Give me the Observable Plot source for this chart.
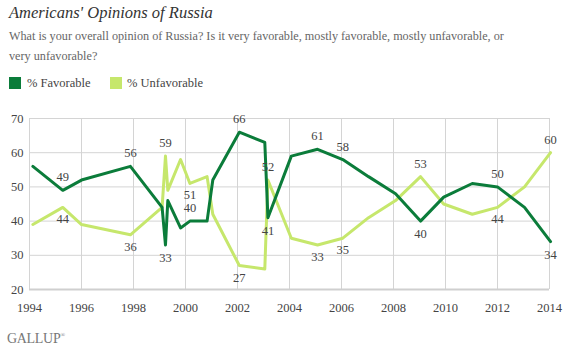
<!DOCTYPE html>
<html>
<head>
<meta charset="utf-8">
<script src="https://cdn.jsdelivr.net/npm/d3@7"></script>
<script src="https://cdn.jsdelivr.net/npm/@observablehq/plot@0.6"></script>
<style>
  body { margin: 0; background: #fff; }
  #wrap { position: relative; width: 569px; height: 350px; font-family: "Liberation Serif", serif; overflow: hidden; }
  .title { position: absolute; left: 9px; top: 3px; font-style: italic; font-size: 16.5px; color: #333; white-space: nowrap; }
  .sub { position: absolute; left: 9px; top: 26px; width: 512px; font-size: 12.2px; line-height: 20px; color: #666; }
  .legend { position: absolute; left: 9px; top: 76px; height: 13px; font-size: 12.5px; color: #444; }
  .legend .sw { position: absolute; top: 1px; width: 12px; height: 12px; }
  .legend .lab { position: absolute; top: 0px; white-space: nowrap; }
  #chart { position: absolute; left: 0; top: 98px; }
  .logo { position: absolute; left: 7px; top: 331px; font-size: 14px; color: #777; letter-spacing: -0.3px; }
  .logo sup { font-size: 6px; }
</style>
</head>
<body>
<div id="wrap">
  <div class="title">Americans' Opinions of Russia</div>
  <div class="sub">What is your overall opinion of Russia? Is it very favorable, mostly favorable, mostly unfavorable, or very unfavorable?</div>
  <div class="legend">
    <span class="sw" style="left:0;background:#0b7c3a"></span><span class="lab" style="left:18px">% Favorable</span>
    <span class="sw" style="left:101px;background:#c6e76c"></span><span class="lab" style="left:118px">% Unfavorable</span>
  </div>
  <div id="chart"></div>
  <div class="logo">GALLUP<sup>®</sup></div>
</div>
<script>
const years = [1994.13, 1995.28, 1996.0, 1997.88, 1999.1, 1999.23, 1999.32, 1999.81, 2000.17, 2000.83, 2001.05, 2002.07, 2003.05, 2003.17, 2004.07, 2005.08, 2006.05, 2007.04, 2008.08, 2009.04, 2009.93, 2011.03, 2012.0, 2013.04, 2014.04];
const favorable = [56, 49, 52, 56, 44, 33, 46, 38, 40, 40, 52, 66, 63, 41, 59, 61, 58, 53, 48, 40, 47, 51, 50, 44, 34];
const unfavorable = [39, 44, 39, 36, 44, 59, 49, 58, 51, 53, 42, 27, 26, 52, 35, 33, 35, 41, 46, 53, 45, 42, 44, 50, 60];
const favAbove = [1, 3, 8, 11, 15, 16, 22];
const favBelow = [5, 13, 19, 24];
const unfAbove = [5, 13, 19, 24];
const unfBelow = [1, 3, 8, 11, 15, 16, 22];
const xTicks = [1994, 1996, 1998, 2000, 2002, 2004, 2006, 2008, 2010, 2012, 2014];
const yTicks = [20, 30, 40, 50, 60, 70];

const DARK = "#0b7c3a", LIGHT = "#c6e76c";
const fav = years.map((x, i) => ({x, y: favorable[i]}));
const unf = years.map((x, i) => ({x, y: unfavorable[i]}));
const pick = (arr, idx) => idx.map(i => arr[i]);

const chart = Plot.plot({
  width: 569,
  height: 230,
  marginLeft: 29,
  marginRight: 20,
  marginTop: 20,
  marginBottom: 39,
  style: {fontFamily: "'Liberation Serif', serif", fontSize: "12.5px", color: "#444", background: "transparent", overflow: "visible"},
  x: {domain: [1994, 2014], ticks: xTicks, tickFormat: "d", tickSize: 0, tickPadding: 14, label: null},
  y: {domain: [20, 70], ticks: yTicks, tickSize: 0, tickPadding: 6, label: null},
  marks: [
    Plot.ruleX(xTicks, {stroke: "#d4d4d4", strokeWidth: 1}),
    Plot.ruleY(yTicks.slice(1), {stroke: "#d4d4d4", strokeWidth: 1}),
    Plot.ruleY([20], {stroke: "#cfcfcf", strokeWidth: 2}),
    Plot.line(unf, {x: "x", y: "y", stroke: LIGHT, strokeWidth: 3, clip: false}),
    Plot.line(fav, {x: "x", y: "y", stroke: DARK, strokeWidth: 3, clip: false}),
    Plot.text(pick(fav, favAbove), {x: "x", y: "y", text: "y", dy: -13, fill: "#444", fontSize: 12.5}),
    Plot.text(pick(fav, favBelow), {x: "x", y: "y", text: "y", dy: 13, fill: "#444", fontSize: 12.5}),
    Plot.text(pick(unf, unfAbove), {x: "x", y: "y", text: "y", dy: -13, fill: "#444", fontSize: 12.5}),
    Plot.text(pick(unf, unfBelow), {x: "x", y: "y", text: "y", dy: 12, fill: "#444", fontSize: 12.5})
  ]
});
document.getElementById("chart").appendChild(chart);
</script>
</body>
</html>
